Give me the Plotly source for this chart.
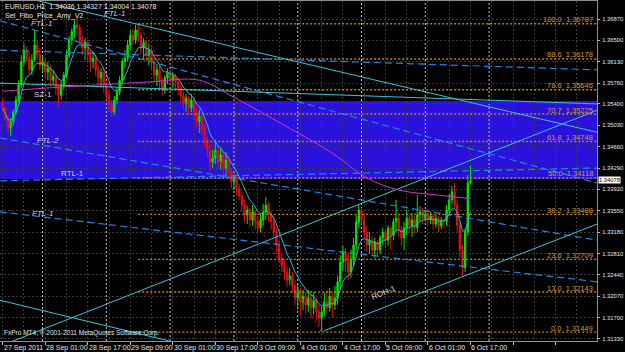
import plotly.graph_objects as go
import pandas as pd

# ---------------- data ----------------
first_open = 1.3543
closes = [
    1.3533, 1.3516, 1.3498, 1.3509, 1.3526, 1.3547, 1.3573, 1.3613, 1.3633, 1.3619,
    1.3599, 1.3616, 1.3642, 1.3625, 1.3607, 1.3613, 1.3595, 1.3602, 1.3581, 1.3588,
    1.3568, 1.3555, 1.3573, 1.3590, 1.3625, 1.3651, 1.3665, 1.3677, 1.3671, 1.3651,
    1.3637, 1.3647, 1.3625, 1.3613, 1.3619, 1.3599, 1.3585, 1.3595, 1.3573, 1.3555,
    1.3538, 1.3526, 1.3547, 1.3561, 1.3581, 1.3613, 1.3619, 1.3642, 1.3659, 1.3651,
    1.3668, 1.3659, 1.3637, 1.3647, 1.3625, 1.3633, 1.3613, 1.3590, 1.3599, 1.3578,
    1.3564, 1.3585, 1.3595, 1.3581, 1.3588, 1.3578, 1.3568, 1.3554, 1.3540, 1.3550,
    1.3533, 1.3547, 1.3526, 1.3509, 1.3519, 1.3498, 1.3478, 1.3460, 1.3439, 1.3446,
    1.3460, 1.3439, 1.3452, 1.3429, 1.3443, 1.3422, 1.3405, 1.3412, 1.3394, 1.3381,
    1.3365, 1.3348, 1.3356, 1.3339, 1.3353, 1.3336, 1.3325, 1.3339, 1.3353, 1.3365,
    1.3348, 1.3336, 1.3318, 1.3296, 1.3273, 1.3261, 1.3249, 1.3235, 1.3242, 1.3225,
    1.3204, 1.3218, 1.3197, 1.3207, 1.3192, 1.3204, 1.3187, 1.3200, 1.3180, 1.3169,
    1.3180, 1.3197, 1.3187, 1.3207, 1.3192, 1.3204, 1.3232, 1.3266, 1.3284, 1.3266,
    1.3249, 1.3270, 1.3296, 1.3336, 1.3356, 1.3339, 1.3318, 1.3296, 1.3304, 1.3287,
    1.3301, 1.3287, 1.3308, 1.3318, 1.3304, 1.3325, 1.3313, 1.3336, 1.3342, 1.3322,
    1.3308, 1.3325, 1.3342, 1.3329, 1.3339, 1.3325, 1.3348, 1.3353, 1.3342, 1.3349,
    1.3339, 1.3346, 1.3332, 1.3342, 1.3329, 1.3339, 1.3336, 1.3356, 1.3374, 1.3388,
    1.3365, 1.3330, 1.3287, 1.3256, 1.3318, 1.34036, 1.34078,
]
highs = [
    1.3550, 1.3536, 1.3521, 1.3516, 1.3530, 1.3554, 1.3581, 1.3625, 1.3645, 1.3640,
    1.3630, 1.3626, 1.3668, 1.3651, 1.3637, 1.3625, 1.3619, 1.3613, 1.3607, 1.3599,
    1.3592, 1.3574, 1.3581, 1.3595, 1.3633, 1.3658, 1.3671, 1.3685, 1.3691, 1.3678,
    1.3658, 1.3654, 1.3651, 1.3633, 1.3630, 1.3625, 1.3606, 1.3602, 1.3599, 1.3578,
    1.3564, 1.3547, 1.3554, 1.3568, 1.3588, 1.3619, 1.3633, 1.3651, 1.3668, 1.3671,
    1.3677, 1.36787, 1.3665, 1.3654, 1.3651, 1.3644, 1.3637, 1.3616, 1.3609, 1.3606,
    1.3585, 1.3590, 1.3602, 1.3599, 1.3595, 1.3592, 1.3585, 1.3574, 1.3561, 1.3557,
    1.3554, 1.3557, 1.3550, 1.3533, 1.3530, 1.3524, 1.3505, 1.3484, 1.3467, 1.3460,
    1.3478, 1.3467, 1.3464, 1.3460, 1.3457, 1.3450, 1.3429, 1.3419, 1.3415, 1.3401,
    1.3388, 1.3374, 1.3363, 1.3360, 1.3365, 1.3356, 1.3346, 1.3349, 1.3367, 1.3379,
    1.3370, 1.3356, 1.3348, 1.3325, 1.3304, 1.3282, 1.3270, 1.3259, 1.3256, 1.3249,
    1.3235, 1.3228, 1.3221, 1.3218, 1.3214, 1.3218, 1.3211, 1.3214, 1.3204, 1.3192,
    1.3190, 1.3214, 1.3218, 1.3221, 1.3214, 1.3225, 1.3242, 1.3278, 1.3294, 1.3291,
    1.3280, 1.3287, 1.3308, 1.3348, 1.3365, 1.3360, 1.3348, 1.3329, 1.3318, 1.3311,
    1.3308, 1.3304, 1.3313, 1.3325, 1.3322, 1.3330, 1.3329, 1.3342, 1.3374, 1.3349,
    1.3329, 1.3336, 1.3356, 1.3348, 1.3351, 1.3346, 1.3382, 1.3363, 1.3360, 1.3356,
    1.3355, 1.3353, 1.3349, 1.3348, 1.3346, 1.3344, 1.3342, 1.3365, 1.3384, 1.3398,
    1.3403, 1.3374, 1.3336, 1.3296, 1.3325, 1.3417, 1.34327,
]
lows = [
    1.3526, 1.3509, 1.3488, 1.3484, 1.3502, 1.3521, 1.3543, 1.3568, 1.3606, 1.3613,
    1.3592, 1.3590, 1.3613, 1.3616, 1.3599, 1.3595, 1.3585, 1.3581, 1.3571, 1.3574,
    1.3555, 1.3536, 1.3547, 1.3564, 1.3585, 1.3619, 1.3642, 1.3654, 1.3659, 1.3644,
    1.3625, 1.3616, 1.3613, 1.3595, 1.3602, 1.3588, 1.3573, 1.3568, 1.3559, 1.3547,
    1.3526, 1.3517, 1.3521, 1.3540, 1.3555, 1.3574, 1.3602, 1.3613, 1.3633, 1.3642,
    1.3644, 1.3647, 1.3625, 1.3619, 1.3613, 1.3607, 1.3599, 1.3578, 1.3571, 1.3564,
    1.3554, 1.3557, 1.3574, 1.3571, 1.3568, 1.3564, 1.3555, 1.3543, 1.3530, 1.3526,
    1.3521, 1.3526, 1.3512, 1.3498, 1.3490, 1.3486, 1.3464, 1.3446, 1.3426, 1.3429,
    1.3436, 1.3429, 1.3426, 1.3415, 1.3413, 1.3412, 1.3394, 1.3391, 1.3381, 1.3374,
    1.3353, 1.3336, 1.3332, 1.3327, 1.3329, 1.3322, 1.3316, 1.3318, 1.3329, 1.3339,
    1.3336, 1.3322, 1.3308, 1.3284, 1.3266, 1.3249, 1.3235, 1.3223, 1.3226, 1.3214,
    1.3192, 1.3187, 1.3173, 1.3183, 1.3176, 1.3180, 1.3169, 1.3175, 1.3166, 1.3156,
    1.31449, 1.3173, 1.3176, 1.3180, 1.3171, 1.3183, 1.3192, 1.3218, 1.3252, 1.3249,
    1.3235, 1.3239, 1.3259, 1.3287, 1.3325, 1.3330, 1.3308, 1.3284, 1.3280, 1.3277,
    1.3273, 1.3275, 1.3280, 1.3296, 1.3291, 1.3294, 1.3287, 1.3304, 1.3318, 1.3311,
    1.3294, 1.3287, 1.3313, 1.3318, 1.3310, 1.3315, 1.3318, 1.3336, 1.3332, 1.3336,
    1.3330, 1.3332, 1.3322, 1.3325, 1.3318, 1.3323, 1.3325, 1.3329, 1.3349, 1.3367,
    1.3360, 1.3318, 1.3273, 1.3240, 1.3249, 1.3311, 1.34004,
]

# slow moving average (magenta), read at sample bars
slow_ma_bars = [0, 18, 36, 55, 74, 86, 99, 111, 124, 137, 149, 164, 176]
slow_ma_vals = [1.3562, 1.3568, 1.3573, 1.3578, 1.3581, 1.3554, 1.3521, 1.3490,
                1.3455, 1.3412, 1.3391, 1.3382, 1.3376]

# fibonacci retracement (Set_Fibo_Price_Amy_V2)
fib_start_bar, fib_end_bar = 51, 120
fib_pcts = ["100.0", "88.6", "78.6", "70.7", "61.8", "50.0", "38.2", "23.6", "13.0", "0.0"]
fib_prices = [1.36787, 1.36178, 1.35646, 1.35225, 1.34748, 1.34118, 1.33488, 1.32709, 1.32143, 1.31449]

# supply zone rectangle
zone_top, zone_bottom = 1.3545, 1.3410

# trend line objects: (bar0, price0, bar1, price1)
solid_lines = {
    "top_channel": (-1.0, 1.3734, 223.6, 1.3491),
    "SZ-1": (-1.0, 1.3576, 223.6, 1.3540),
    "rising": (2.0, 1.3126, 223.6, 1.3529),
    "ROH-1": (120.9, 1.3147, 223.6, 1.3332),
    "low_channel": (-1.0, 1.3200, 74.0, 1.3117),
}
dashed_lines = {
    "FTL-1 upper": (-1.0, 1.3684, 223.6, 1.3403),
    "flat": (-1.0, 1.3633, 223.6, 1.3599),
    "FTL-2": (-1.0, 1.3481, 223.6, 1.3304),
    "RTL-1": (-1.0, 1.3407, 223.6, 1.3429),
    "FTL-1 lower": (-1.0, 1.3353, 223.6, 1.3232),
}
line_labels = [("<i>FTL-1</i>", 14.7, 1.3680, 0), ("<i>FTL-1</i>", 42.0, 1.3697, 0),
               ("SZ-1", 15.0, 1.3556, 0), ("<i>FTL-2</i>", 17.0, 1.3476, 0),
               ("RTL-1", 26.4, 1.3419, 0), ("<i>FTL-1</i>", 15.0, 1.3351, 0),
               ("ROH-1", 143.4, 1.3213, -22)]

date_bars = [0, 16, 32, 48, 64, 80, 96, 112, 128, 144, 160, 176]
date_labels = ["27 Sep 2011", "28 Sep 01:00", "28 Sep 17:00", "29 Sep 09:00", "30 Sep 01:00",
               "30 Sep 17:00", "3 Oct 09:00", "4 Oct 01:00", "4 Oct 17:00", "5 Oct 09:00",
               "6 Oct 01:00", "6 Oct 17:00"]
day_start_bars = [15, 39, 63, 87, 111, 135, 159, 183]

price_ticks = [1.36870, 1.36500, 1.36130, 1.35760, 1.35400, 1.35030, 1.34660, 1.34290,
               1.33920, 1.33550, 1.33180, 1.32810, 1.32440, 1.32070, 1.31700, 1.31330]
price_tick_text = ["1.36870", "1.36500", "1.36130", "1.35760", "1.35400", "1.35030", "1.34660",
                   "1.34290", "1.33920", "1.33550", "1.33180", "1.32810", "1.32440", "1.32070",
                   "1.31700", "1.31330"]

# ---------------- figure ----------------
bars = list(range(len(closes)))
opens = [first_open] + closes[:-1]
fast_ma = pd.Series(closes).ewm(span=8).mean()

X_RANGE = [-1.01, 223.6]
Y_RANGE = [1.31295, 1.37182]
FONT = "Liberation Sans"

fig = go.Figure()

# blue zone + day separators (below grid / traces)
shapes = [dict(type="rect", xref="paper", yref="y", x0=0, x1=1, y0=zone_bottom, y1=zone_top,
               fillcolor="#2a12dc", line=dict(width=0), layer="below")]
for b in day_start_bars:
    shapes.append(dict(type="line", xref="x", yref="paper", x0=b, x1=b, y0=0, y1=1,
                       line=dict(color="#c8c8c8", width=1, dash="2px,2px"), layer="below"))

# fibo levels
for p in fib_prices:
    fig.add_trace(go.Scatter(x=[fib_start_bar, X_RANGE[1]], y=[p, p], mode="lines",
                             line=dict(color="#c0841c", width=1.4, dash="2px,2px"),
                             hoverinfo="skip"))
fig.add_trace(go.Scatter(x=[fib_start_bar, fib_end_bar], y=[fib_prices[0], fib_prices[-1]],
                         mode="lines", line=dict(color="#b01818", width=1, dash="3px,2px"),
                         hoverinfo="skip"))

for k, (b0, p0, b1, p1) in dashed_lines.items():
    fig.add_trace(go.Scatter(x=[b0, b1], y=[p0, p1], mode="lines",
                             line=dict(color="#1e86e8", width=1.2, dash="7px,4px"),
                             hoverinfo="skip"))
for k, (b0, p0, b1, p1) in solid_lines.items():
    fig.add_trace(go.Scatter(x=[b0, b1], y=[p0, p1], mode="lines",
                             line=dict(color="#3cc4d6", width=1),
                             hoverinfo="skip"))

fig.add_trace(go.Scatter(x=slow_ma_bars, y=slow_ma_vals, mode="lines",
                         line=dict(color="#c838c8", width=1, shape="spline"), hoverinfo="skip"))

fig.add_trace(go.Candlestick(
    x=bars, open=opens, high=highs, low=lows, close=closes,
    increasing=dict(line=dict(color="#00e800", width=1), fillcolor="#00e800"),
    decreasing=dict(line=dict(color="#e01414", width=1), fillcolor="#c80c0c"),
    whiskerwidth=0, hoverinfo="skip"))

fig.add_trace(go.Scatter(x=bars, y=fast_ma, mode="lines",
                         line=dict(color="#2cb4d8", width=1), hoverinfo="skip"))

ann = []
for pct, p in zip(fib_pcts, fib_prices):
    ann.append(dict(xref="paper", yref="y", x=1, y=p, xanchor="right", yanchor="middle",
                    xshift=-2, yshift=4, showarrow=False, text=f"{pct}  {p:.5f}",
                    font=dict(family=FONT, size=7.5, color="#d09a3a")))
for txt, b, p, ang in line_labels:
    ann.append(dict(xref="x", yref="y", x=b, y=p, showarrow=False, text=txt, textangle=ang,
                    font=dict(family=FONT, size=8, color="#d4d4e8")))
for b, t in zip(date_bars, date_labels):
    ann.append(dict(xref="x", yref="paper", x=b, y=0, xanchor="left", yanchor="top",
                    xshift=-1, yshift=-1, showarrow=False, text=t,
                    font=dict(family=FONT, size=7, color="#e8e8e8")))
ann.append(dict(xref="paper", yref="paper", x=0, y=1, xanchor="left", yanchor="top",
                xshift=3, yshift=0, showarrow=False,
                text="EURUSD,H1  1.34036 1.34327 1.34004 1.34078",
                font=dict(family=FONT, size=7, color="#e8e8e8")))
ann.append(dict(xref="paper", yref="paper", x=0, y=1, xanchor="left", yanchor="top",
                xshift=3, yshift=-9, showarrow=False, text="Set_Fibo_Price_Amy_V2",
                font=dict(family=FONT, size=7, color="#e8e8e8")))
ann.append(dict(xref="paper", yref="paper", x=0, y=0, xanchor="left", yanchor="bottom",
                xshift=2, yshift=2, showarrow=False,
                text="FxPro MT4, © 2001-2011 MetaQuotes Software Corp.",
                font=dict(family=FONT, size=6.5, color="#e8e8e8")))
ann.append(dict(xref="paper", yref="y", x=1, y=closes[-1], xanchor="left", yanchor="middle",
                xshift=1, showarrow=False, text="1.34078", bgcolor="#ffffff", borderpad=0,
                font=dict(family=FONT, size=5.8, color="#000000")))

fig.update_layout(
    width=625, height=352, margin=dict(l=0, r=28, t=1, b=11),
    paper_bgcolor="#000000", plot_bgcolor="#000000", showlegend=False,
    shapes=shapes, annotations=ann,
    xaxis=dict(range=X_RANGE, rangeslider=dict(visible=False), tickmode="linear", tick0=0,
               dtick=16, showticklabels=False, ticks="outside", ticklen=3, tickcolor="#c0c0c0",
               showgrid=True, gridcolor="#3a3a3a", griddash="2px,2px", gridwidth=1,
               minor=dict(tickmode="linear", tick0=0, dtick=8, showgrid=True,
                          gridcolor="#3a3a3a", griddash="2px,2px"),
               showline=True, linecolor="#909090", mirror=True, zeroline=False,
               automargin=False, fixedrange=True),
    yaxis=dict(range=Y_RANGE, side="right", tickmode="array", tickvals=price_ticks,
               ticktext=price_tick_text, ticks="outside", ticklen=2, tickcolor="#c0c0c0",
               ticklabelstandoff=1,
               tickfont=dict(family=FONT, size=5.8, color="#e8e8e8"),
               showgrid=True, gridcolor="#3a3a3a", griddash="2px,2px",
               showline=True, linecolor="#909090", mirror=True, zeroline=False,
               automargin=False, fixedrange=True),
)

fig.write_html("out.html")
